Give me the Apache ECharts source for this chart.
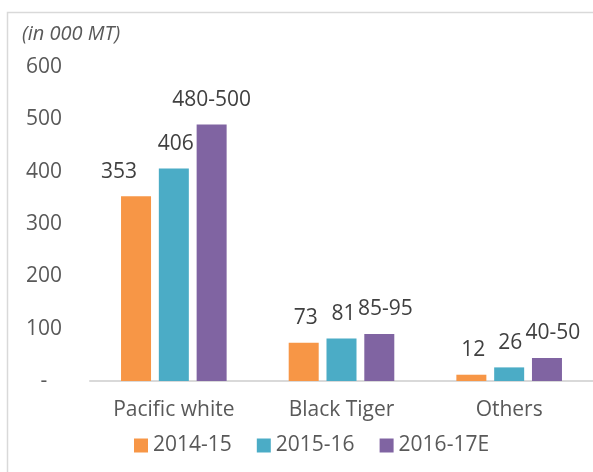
<!DOCTYPE html>
<html>
<head>
<meta charset="utf-8">
<script src="https://cdn.jsdelivr.net/npm/echarts@6/dist/echarts.min.js"></script>
<style>
html,body{margin:0;padding:0;background:#fff;}
#chart{width:593px;height:472px;}
</style>
</head>
<body>
<div id="chart"></div>
<script>
const categories = ['Pacific white', 'Black Tiger', 'Others'];
const seriesNames = ['2014-15', '2015-16', '2016-17E'];
const values2014 = [353, 73, 12];
const values2015 = [406, 81, 26];
const values2016 = [490, 90, 44];
const labels2014 = ['353', '73', '12'];
const labels2015 = ['406', '81', '26'];
const labels2016 = ['480-500', '85-95', '40-50'];
const yTicks = [0, 100, 200, 300, 400, 500, 600];
const unitNote = '(in 000 MT)';

const colors = ['#F79646', '#4BACC6', '#8064A2'];
const FONT = '"Open Sans", sans-serif';
const FS = 21;

const chart = echarts.init(document.getElementById('chart'));

function makeSeries(idx, vals, labs, shifts) {
  return {
    name: seriesNames[idx],
    type: 'bar',
    barWidth: 30,
    barGap: '26%',
    itemStyle: { color: colors[idx] },
    data: vals.map((v, i) => ({
      value: v,
      label: { offset: [shifts[i], 0] }
    })),
    label: {
      show: true,
      position: 'top',
      distance: 14,
      color: '#404040',
      fontFamily: FONT,
      fontSize: FS,
      formatter: p => labs[p.dataIndex]
    }
  };
}

chart.setOption({
  animation: false,
  backgroundColor: '#fff',
  textStyle: { fontFamily: FONT },
  graphic: [
    {
      type: 'rect',
      shape: { x: 7.5, y: 12.5, width: 700, height: 600 },
      style: { fill: 'none', stroke: '#d9d9d9', lineWidth: 1.5 },
      silent: true,
      z: -10
    },
    {
      type: 'text',
      left: 22,
      top: 24,
      style: {
        text: unitNote,
        fill: '#595959',
        font: 'italic 20px "Open Sans", sans-serif'
      }
    }
  ],
  legend: {
    data: seriesNames,
    left: 129,
    top: 430,
    icon: 'rect',
    itemWidth: 14,
    itemHeight: 14,
    itemGap: 25,
    textStyle: { color: '#595959', fontSize: FS, fontFamily: FONT }
  },
  grid: { left: 90, width: 510, top: 67, bottom: 91, containLabel: false },
  xAxis: {
    type: 'category',
    data: categories,
    axisLine: { show: true, lineStyle: { color: '#d9d9d9', width: 2 } },
    axisTick: { show: false },
    axisLabel: { color: '#595959', fontSize: FS, fontFamily: FONT, margin: 19 }
  },
  yAxis: {
    type: 'value',
    min: yTicks[0],
    max: yTicks[yTicks.length - 1],
    interval: yTicks[1] - yTicks[0],
    axisLine: { show: false },
    axisTick: { show: false },
    splitLine: { show: false },
    axisLabel: {
      color: '#595959',
      fontSize: FS,
      fontFamily: FONT,
      align: 'center',
      margin: 46,
      formatter: v => (v === 0 ? '-' : String(v))
    }
  },
  series: [
    makeSeries(0, values2014, labels2014, [-17, 2, 2]),
    makeSeries(1, values2015, labels2015, [2, 2, 1]),
    makeSeries(2, values2016, labels2016, [0, 6, 6])
  ]
});
</script>
</body>
</html>
